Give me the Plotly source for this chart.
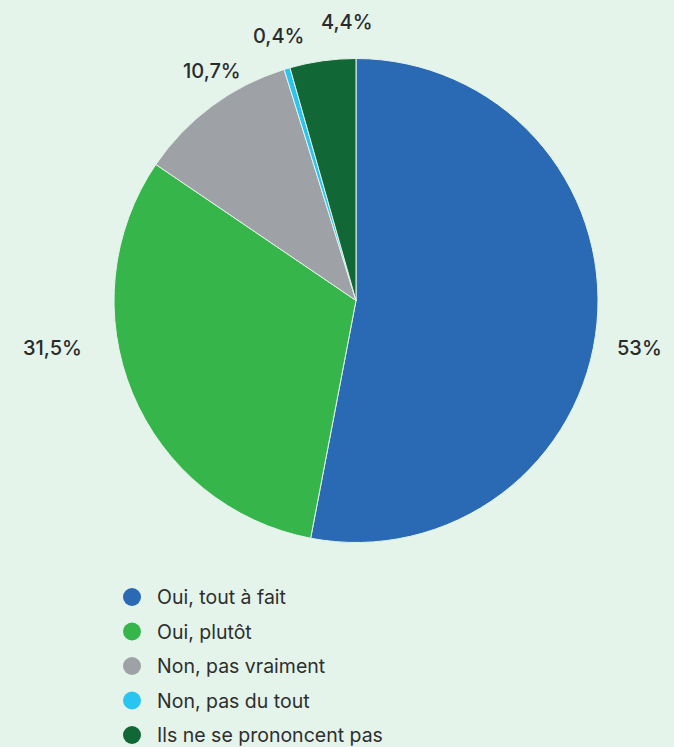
import numpy as np
import plotly.graph_objects as go

# survey answers
labels = ['Oui, tout à fait', 'Oui, plutôt', 'Non, pas vraiment', 'Non, pas du tout', 'Ils ne se prononcent pas']
values = [53, 31.5, 10.7, 0.4, 4.4]
value_text = ['53%', '31,5%', '10,7%', '0,4%', '4,4%']
colors = ['#2a6ab4', '#36b54b', '#9ea1a5', '#29c4f0', '#116836']

W, H = 674, 747
bg = '#e4f4ea'
cx, cy, R = 356, 300.5, 242

# label placement: radius from centre, then small pixel nudges (dx, dy down)
label_r = 280
nudges = [(5, 21), (-45, -60), (23, -5), (2, 4), (30, -1)]

# legend layout (pixels)
leg_x, leg_y0, leg_step, leg_text_dx = 132, 597, 34.5, 23

fig = go.Figure()

fig.add_trace(go.Pie(
    values=values, labels=labels, sort=False, direction='clockwise', rotation=0,
    marker=dict(colors=colors, line=dict(color=bg, width=1)),
    textinfo='none', hoverinfo='label+percent', showlegend=False,
    domain=dict(x=[(cx - R) / W, (cx + R) / W], y=[1 - (cy + R) / H, 1 - (cy - R) / H]),
))

# percentage labels outside the pie
total = sum(values)
cum = np.cumsum([0] + values[:-1])
for i, v in enumerate(values):
    theta = 2 * np.pi * (cum[i] + v / 2) / total
    px = cx + label_r * np.sin(theta) + nudges[i][0]
    py = cy - label_r * np.cos(theta) + nudges[i][1]
    fig.add_annotation(x=px / W, y=1 - py / H, xref='paper', yref='paper',
                       xanchor='center', yanchor='middle',
                       text=value_text[i], showarrow=False,
                       font=dict(family='Inter', size=20, color='#2b2b2b', weight=500))

# legend drawn by hand with round markers (hidden pixel axes)
rows = np.arange(len(labels))
fig.add_trace(go.Scatter(x=[leg_x] * len(labels), y=leg_y0 + leg_step * rows, mode='markers',
                         marker=dict(symbol='circle', size=18, color=colors),
                         hoverinfo='skip', showlegend=False))
for i, name in enumerate(labels):
    fig.add_annotation(x=leg_x + leg_text_dx, y=leg_y0 + leg_step * i, xref='x', yref='y',
                       xanchor='left', yanchor='middle', text=name, showarrow=False,
                       font=dict(family='Inter', size=19.5, color='#2e2e2e'))

fig.update_layout(
    width=W, height=H,
    margin=dict(l=0, r=0, t=0, b=0),
    paper_bgcolor=bg, plot_bgcolor='rgba(0,0,0,0)',
    xaxis=dict(visible=False, range=[0, W], domain=[0, 1], fixedrange=True),
    yaxis=dict(visible=False, range=[H, 0], domain=[0, 1], fixedrange=True),
    showlegend=False,
)

fig.write_html("out.html", config={'displayModeBar': False},
               post_script="document.body.style.margin='0';")
